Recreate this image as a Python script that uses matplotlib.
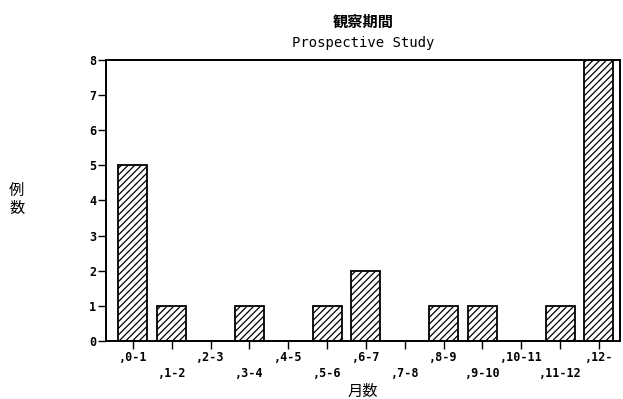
import matplotlib

matplotlib.use("Agg")
import matplotlib.pyplot as plt

# months bins and case counts
categories = [",0-1", ",1-2", ",2-3", ",3-4", ",4-5", ",5-6", ",6-7",
              ",7-8", ",8-9", ",9-10", ",10-11", ",11-12", ",12-"]
counts = [5, 1, 0, 1, 0, 1, 2, 0, 1, 1, 0, 1, 8]
yticks = [0, 1, 2, 3, 4, 5, 6, 7, 8]

title_jp = "観察期間"
title_en = "Prospective Study"
xlabel = "月数"
ylabel = "例数"

plt.rcParams["hatch.linewidth"] = 0.9
mono = ["DejaVu Sans Mono"]
cjk = ["Noto Sans CJK JP", "DejaVu Sans"]

fig = plt.figure(figsize=(6.23, 3.99), dpi=100)
ax = fig.add_axes([0.170, 0.145, 0.825, 0.705])

x = list(range(len(categories)))
ax.bar(x, counts, width=0.75, color="white", edgecolor="black",
       linewidth=1.3, hatch="/////")

ax.set_xlim(-0.695, 12.54)
ax.set_ylim(0, 8)
ax.set_yticks(yticks)
ax.set_yticklabels([str(v) for v in yticks], family=mono, fontsize=8.5,
                   fontweight="bold")
ax.set_xticks(x)
labels = [c if i % 2 == 0 else "\n" + c for i, c in enumerate(categories)]
ax.set_xticklabels(labels, family=mono, fontsize=8.5, fontweight="bold")
for lab in ax.get_xticklabels():
    lab.set_linespacing(1.35)

for side in ["left", "right", "top", "bottom"]:
    ax.spines[side].set_linewidth(1.4)
ax.tick_params(axis="both", direction="out", length=5.5, width=1.0, pad=1.5)

fig.text(0.583, 0.945, title_jp, ha="center", va="center",
         family=cjk, fontsize=11, fontweight="bold")
fig.text(0.583, 0.892, title_en, ha="center", va="center",
         family=mono, fontsize=10)
fig.text(0.583, 0.018, xlabel, ha="center", va="center",
         family=cjk, fontsize=11)
fig.text(0.027, 0.50, "\n".join(ylabel), ha="center", va="center",
         family=cjk, fontsize=11, linespacing=1.05)

fig.savefig("out.png", dpi=100)
